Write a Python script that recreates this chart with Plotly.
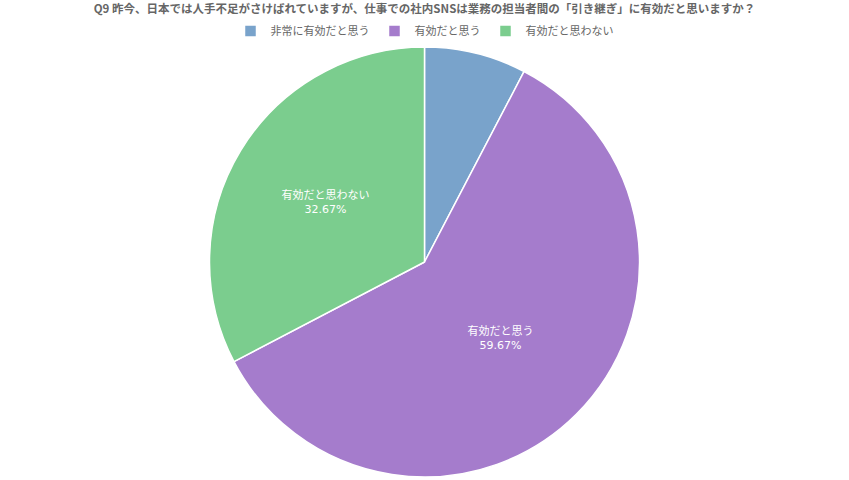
import plotly.graph_objects as go

title_text = "Q9 昨今、日本では人手不足がさけばれていますが、仕事での社内SNSは業務の担当者間の「引き継ぎ」に有効だと思いますか？"
labels = ["非常に有効だと思う", "有効だと思う", "有効だと思わない"]
values = [23, 179, 98]
colors = ["#79A3CB", "#A57CCC", "#7BCD8E"]
text_templates = ["", "%{label}<br>%{percent:.2%}", "%{label}<br>%{percent:.2%}"]

font_family = "Noto Sans CJK JP"
label_family = "DejaVu Sans, Noto Sans CJK JP"

fig = go.Figure(go.Pie(
    labels=labels,
    values=values,
    sort=False,
    direction="clockwise",
    rotation=0,
    marker=dict(colors=colors, line=dict(color="white", width=1.5)),
    texttemplate=text_templates,
    textposition="inside",
    insidetextorientation="horizontal",
    textfont=dict(color="white", size=11, family=label_family),
    hoverinfo="label+percent",
))

fig.update_layout(
    width=849, height=480,
    paper_bgcolor="white", plot_bgcolor="white",
    margin=dict(l=0, r=0, t=47, b=3, autoexpand=False),
    font=dict(family=font_family, color="#666666"),
    title=dict(text="<b>" + title_text + "</b>", x=0.5, xanchor="center",
               xref="paper", yref="container", y=1 - 9 / 480, yanchor="middle",
               font=dict(size=11.5, color="#666666", family=font_family)),
    legend=dict(orientation="h", x=0.5, xanchor="center", yref="container",
                y=1 - 31 / 480, yanchor="middle",
                font=dict(size=11, color="#666666", family=font_family),
                itemwidth=30, tracegroupgap=0),
    showlegend=True,
)

fig.write_html("out.html", config={"displayModeBar": False},
               post_script="document.body.style.margin='0';document.body.style.overflow='hidden';")
